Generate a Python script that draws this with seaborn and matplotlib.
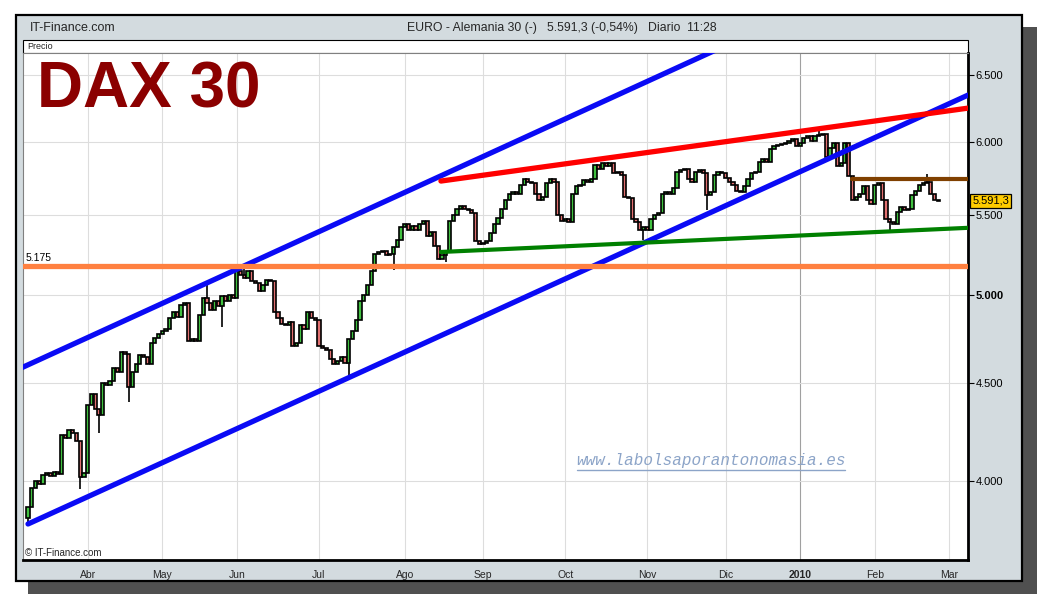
import numpy as np
import pandas as pd
import matplotlib
matplotlib.use("Agg")
import matplotlib.pyplot as plt
import matplotlib.transforms as mtransforms
from matplotlib.patches import Rectangle
from matplotlib.lines import Line2D
import seaborn as sns

sns.set_style("white")
plt.rcParams['font.family'] = ['Liberation Sans', 'DejaVu Sans']

# Xetra trading days, 10 Mar 2009 .. 24 Feb 2010
holidays = ["2009-04-10", "2009-04-13", "2009-05-01", "2009-12-24",
            "2009-12-25", "2009-12-31", "2010-01-01"]

first_open = 3830
closes = [
    3880, 3970, 4000, 3990, 4030, 4040, 4025, 4045, 4035, 4230, 4215, 4255, 4240, 4200, 4020, 4040,
    4380, 4440, 4360, 4330, 4500, 4490, 4510, 4580, 4560, 4670, 4660, 4480, 4560, 4600, 4650, 4640,
    4600, 4720, 4750, 4770, 4790, 4800,
    4860, 4900, 4870, 4940, 4950, 4730, 4740,
    4730, 4880, 4980, 4950, 4910, 4960, 4930, 4990, 4960, 5000, 4980, 5140, 5120, 5100, 5140, 5080,
    5070, 5020, 5060, 5090, 5080, 4900, 4860, 4830, 4820, 4840, 4700, 4720, 4820, 4800,
    4900, 4860, 4850, 4700, 4690, 4680, 4630, 4600, 4620, 4640, 4610, 4740, 4790, 4850, 4960, 5000,
    5060, 5140, 5250, 5260, 5270, 5240, 5250, 5290, 5340, 5420, 5440, 5400, 5430, 5400, 5440, 5460,
    5360,
    5390, 5300, 5220, 5240, 5260, 5460, 5500, 5540, 5560, 5540, 5530, 5510, 5330, 5310, 5320, 5330,
    5380, 5440, 5480, 5540, 5600, 5640, 5650, 5640, 5700, 5740, 5720, 5710,
    5640, 5600, 5620, 5710, 5740, 5720, 5500, 5460, 5470, 5450, 5640, 5690, 5700, 5730, 5720, 5740,
    5840, 5810, 5850, 5830, 5850, 5780, 5790, 5770, 5620, 5610, 5470, 5450, 5400, 5420, 5400,
    5470, 5500, 5510, 5640, 5650, 5640, 5680, 5790, 5800, 5810, 5740, 5720, 5790, 5800, 5780, 5630,
    5650, 5770, 5790, 5780, 5750, 5720, 5700, 5660, 5650, 5690, 5740, 5780, 5790, 5860, 5880,
    5860, 5950, 5970, 5980, 5985, 5990, 6010, 6020, 5970, 5990, 6030, 6040, 6010, 6040, 6050, 6060,
    5890, 5960, 5990, 5830, 5850, 5990, 5760, 5600, 5620, 5640,
    5690, 5600, 5570, 5700, 5710, 5600, 5470, 5450, 5440, 5520, 5550, 5530, 5540, 5630, 5660, 5700,
    5710, 5720, 5640, 5600, 5591.3,
]
# notable wick extremes (trading-day index: price)
low_wicks = {0: 3800, 14: 3965, 19: 4240, 27: 4400, 52: 4810, 86: 4530, 98: 5150, 112: 5200,
             165: 5340, 182: 5530, 231: 5400}
high_wicks = {48: 5060, 58: 5180, 212: 6085, 241: 5775}

month_starts = ["2009-04-01", "2009-05-01", "2009-06-01", "2009-07-01", "2009-08-01", "2009-09-01",
                "2009-10-01", "2009-11-01", "2009-12-01", "2010-01-01", "2010-02-01", "2010-03-01"]
month_names = ["Abr", "May", "Jun", "Jul", "Ago", "Sep", "Oct", "Nov", "Dic", "2010", "Feb", "Mar"]
price_ticks = [4000, 4500, 5000, 5500, 6000, 6500]

# trend lines as (trading-day index, price) end points
upper_channel = ([-2, 190], [4579, 6773])
lower_channel = ([0, 252], [3802, 6345])
resistance = ([110.7, 252], [5726, 6247])
support = ([110.7, 252], [5261, 5415])
range_top = ([220.8, 252], [5740, 5740])
level = 5175
last_price = 5591.3

all_days = pd.bdate_range("2009-03-10", "2010-03-05")
all_days = all_days[~all_days.isin(pd.to_datetime(holidays))]
n = len(closes)
pos = np.arange(n)
closes_a = np.array(closes, dtype=float)
opens = np.concatenate([[first_open], closes_a[:-1]])
body_lo = np.minimum(opens, closes_a)
body_hi = np.maximum(opens, closes_a)
lows = body_lo.copy()
highs = body_hi.copy()
for k, v in low_wicks.items():
    lows[k] = v
for k, v in high_wicks.items():
    highs[k] = v

W, H = 1040, 600
fig = plt.figure(figsize=(W / 100, H / 100), dpi=100)
fig.patch.set_facecolor("white")


def fx(x):
    return x / W


def fy(y):
    return 1 - y / H


def rect(x0, y0, x1, y1, **kw):
    fig.patches.append(Rectangle((fx(x0), fy(y1)), fx(x1) - fx(x0), fy(y0) - fy(y1),
                                 transform=fig.transFigure, **kw))


# shadow, panel, "Precio" strip
rect(28, 27, 1037, 594, facecolor="#505050", edgecolor="none", zorder=-3)
rect(16, 15, 1022, 581, facecolor="#D3DBDF", edgecolor="black", linewidth=1.6, zorder=-2)
rect(23, 40, 968, 53, facecolor="white", edgecolor="black", linewidth=0.8, zorder=-1)

ax = fig.add_axes([fx(23), fy(560), fx(968) - fx(23), fy(53) - fy(560)])
ax.set_zorder(1)
ax.set_facecolor("white")
ax.set_yscale("log")

# grid
tick_pos = [int(np.searchsorted(all_days, pd.Timestamp(m))) for m in month_starts]
for p, name in zip(tick_pos, month_names):
    ax.axvline(p, color="#A0A0A0" if name == "2010" else "#DDDDDD", lw=0.8, zorder=0)
for v in price_ticks:
    ax.axhline(v, color="#DDDDDD", lw=0.8, zorder=0)

# candles
colors = np.where(closes_a >= opens, "#40C040", "#E07070")
ax.vlines(pos, lows, highs, color="black", lw=1.2, zorder=3)
heights = np.maximum(body_hi - body_lo, 6)
ax.bar(pos, heights, bottom=body_lo, width=0.85, color=colors, edgecolor="black",
       linewidth=1.2, zorder=4)

# trend lines
sns.lineplot(x=upper_channel[0], y=upper_channel[1], ax=ax, color="#0A0AF5", lw=3.8, zorder=5)
sns.lineplot(x=lower_channel[0], y=lower_channel[1], ax=ax, color="#0A0AF5", lw=3.8, zorder=5)
sns.lineplot(x=resistance[0], y=resistance[1], ax=ax, color="#FF0000", lw=3.8, zorder=5)
sns.lineplot(x=support[0], y=support[1], ax=ax, color="#008000", lw=3.0, zorder=5)
sns.lineplot(x=range_top[0], y=range_top[1], ax=ax, color="#804000", lw=3.0, zorder=5)
ax.axhline(level, color="#FF8040", lw=3.8, zorder=5)
ax.text(0.003, level * 1.003, "5.175", transform=mtransforms.blended_transform_factory(ax.transAxes, ax.transData),
        fontsize=7.5, va="bottom", ha="left", color="black")

ax.set_xlim(-1.34, 252.0)
ax.set_ylim(3642, 6672)

ax.yaxis.tick_right()
ax.set_yticks(price_ticks)
ax.set_yticklabels([f"{v:,}".replace(",", ".") for v in price_ticks])
ax.yaxis.set_minor_locator(matplotlib.ticker.NullLocator())
for lab, v in zip(ax.get_yticklabels(), price_ticks):
    if v == 5000:
        lab.set_fontweight("bold")
        lab.set_fontsize(8.5)
ax.tick_params(axis="y", which="major", right=True, direction="out", length=4, width=0.8,
               labelsize=8, pad=1.5, colors="black")
ax.set_xticks(tick_pos)
ax.set_xticklabels(month_names)
for lab in ax.get_xticklabels():
    if lab.get_text() == "2010":
        lab.set_fontweight("bold")
        lab.set_fontsize(8.5)
ax.tick_params(axis="x", direction="out", length=4, width=0.8, labelsize=7.5, pad=3)
ax.set_xlabel("")
ax.set_ylabel("")

for side in ["left", "top"]:
    ax.spines[side].set_linewidth(0.8)
    ax.spines[side].set_color("#808080")
for side in ["right", "bottom"]:
    ax.spines[side].set_linewidth(2.0)
    ax.spines[side].set_color("black")

# last price tag
ax.text(1.0045, last_price, "5.591,3", transform=mtransforms.blended_transform_factory(ax.transAxes, ax.transData),
        fontsize=8, va="center", ha="left", color="black", clip_on=False,
        bbox=dict(boxstyle="square,pad=0.18", fc="#FFCC00", ec="black", lw=0.9))

# texts
fig.text(fx(30), fy(28), "IT-Finance.com", fontsize=9, va="center", ha="left",
         family=["Liberation Sans Narrow", "Liberation Sans", "DejaVu Sans"])
fig.text(fx(562), fy(28), "EURO - Alemania 30 (-)   5.591,3 (-0,54%)   Diario  11:28", fontsize=8.8,
         va="center", ha="center", family=["Liberation Sans Narrow", "Liberation Sans", "DejaVu Sans"])
fig.text(fx(27), fy(46.5), "Precio", fontsize=6.5, va="center", ha="left")
fig.text(fx(25), fy(553), "© IT-Finance.com", fontsize=7, va="center", ha="left", zorder=10)
fig.text(fx(37), fy(108), "DAX 30", fontsize=46, fontweight="bold", color="#8B0000",
         va="baseline", ha="left", zorder=10)
fig.text(fx(711), fy(461), "www.labolsaporantonomasia.es", fontsize=11.5, style="italic",
         color="#8CA4C8", va="center", ha="center", family=["Liberation Mono", "DejaVu Sans Mono"],
         zorder=10)
fig.lines.append(Line2D([fx(577), fx(845)], [fy(470), fy(470)], transform=fig.transFigure,
                        color="#8CA4C8", lw=1.0, zorder=10))

fig.savefig("out.png", dpi=100, facecolor="white")
